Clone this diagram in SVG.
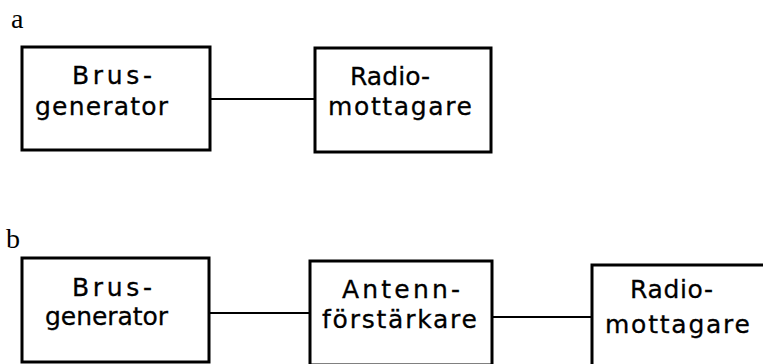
<svg xmlns="http://www.w3.org/2000/svg" width="763" height="364" viewBox="0 0 763 364">
<style>
.box{fill:none;stroke:#000;stroke-width:3}
.wire{stroke:#000;stroke-width:2;fill:none}
.t{font-family:"DejaVu Sans",sans-serif;font-size:25px;fill:#000;stroke:#000;stroke-width:0.3}
.lbl{font-family:"Liberation Serif",serif;font-size:28px;fill:#000}
</style>
<rect width="763" height="364" fill="#fff"/>
<text class="lbl" x="11" y="28">a</text>
<text class="lbl" x="6" y="248">b</text>
<g id="connectors">
<line class="wire" x1="210" y1="99" x2="315" y2="99"/>
<line class="wire" x1="209" y1="313" x2="310" y2="313"/>
<line class="wire" x1="492" y1="317" x2="592" y2="317"/>
</g>
<g id="a-brus">
<rect class="box" x="22" y="47" width="188" height="103"/>
<text class="t" x="72" y="84" textLength="80" lengthAdjust="spacing">Brus-</text>
<text class="t" x="35" y="115" textLength="133" lengthAdjust="spacing">generator</text>
</g>
<g id="a-radio">
<rect class="box" x="315" y="48" width="176" height="104"/>
<text class="t" x="350" y="85" textLength="80" lengthAdjust="spacing">Radio-</text>
<text class="t" x="328" y="115" textLength="144" lengthAdjust="spacing">mottagare</text>
</g>
<g id="b-brus">
<rect class="box" x="22" y="258" width="187" height="104"/>
<text class="t" x="72" y="296" textLength="80" lengthAdjust="spacing">Brus-</text>
<text class="t" x="45" y="325" textLength="123" lengthAdjust="spacing">generator</text>
</g>
<g id="b-antenn">
<rect class="box" x="310" y="261" width="182" height="104"/>
<text class="t" x="342" y="298" textLength="118" lengthAdjust="spacing">Antenn-</text>
<text class="t" x="322" y="328" textLength="155" lengthAdjust="spacing">förstärkare</text>
</g>
<g id="b-radio">
<rect class="box" x="592" y="265" width="180" height="104"/>
<text class="t" x="630" y="298" textLength="83" lengthAdjust="spacing">Radio-</text>
<text class="t" x="605" y="333" textLength="145" lengthAdjust="spacing">mottagare</text>
</g>
</svg>
